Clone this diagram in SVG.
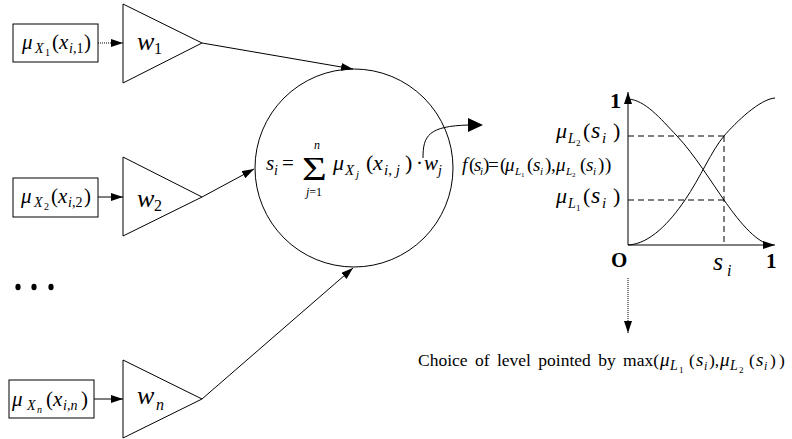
<svg xmlns="http://www.w3.org/2000/svg" width="792" height="439" viewBox="0 0 792 439">
<defs>
<marker id="ah" viewBox="0 0 12 8" refX="12" refY="4" markerWidth="12" markerHeight="8" markerUnits="userSpaceOnUse" orient="auto"><path d="M0,0 L12,4 L0,8 z" fill="#000"/></marker>
</defs>
<style>
.s{fill:none;stroke:#000;stroke-width:1}
.d{fill:none;stroke:#000;stroke-width:1;stroke-dasharray:1 1}
.dash{fill:none;stroke:#000;stroke-width:1;stroke-dasharray:6 4}
.t{font-family:"Liberation Serif","Times New Roman",serif;fill:#000}
.i{font-style:italic}
.u{font-style:normal}
.b{font-weight:bold}
</style>
<rect width="792" height="439" fill="#fff"/>

<g id="in1">
<rect x="13" y="24" width="85" height="38" class="s"/>
<text class="t i" font-size="21"><tspan x="22" y="49">μ</tspan><tspan x="35" y="53" font-size="14">X</tspan><tspan x="45" y="56" font-size="10" class="u">1</tspan><tspan x="52" y="49" class="u">(</tspan><tspan x="59" y="49">x</tspan><tspan x="69" y="53" font-size="14">i<tspan class="u">,1</tspan></tspan><tspan x="84" y="49" class="u">)</tspan></text>
</g>
<g id="in2">
<rect x="13" y="178" width="85" height="39" class="s"/>
<text class="t i" font-size="21"><tspan x="21" y="203">μ</tspan><tspan x="34" y="207" font-size="14">X</tspan><tspan x="44" y="210" font-size="10" class="u">2</tspan><tspan x="51" y="203" class="u">(</tspan><tspan x="58" y="203">x</tspan><tspan x="68" y="207" font-size="14">i<tspan class="u">,2</tspan></tspan><tspan x="84" y="203" class="u">)</tspan></text>
</g>
<g id="inn">
<rect x="9" y="380" width="85" height="38" class="s"/>
<text class="t i" font-size="21"><tspan x="12" y="406">μ</tspan><tspan x="27" y="410" font-size="14">X</tspan><tspan x="37" y="413" font-size="10">n</tspan><tspan x="46" y="406" class="u">(</tspan><tspan x="53" y="406">x</tspan><tspan x="63" y="410" font-size="14">i<tspan class="u">,</tspan>n</tspan><tspan x="81" y="406" class="u">)</tspan></text>
</g>

<g id="dots">
<ellipse cx="18" cy="287" rx="2.6" ry="3.2"/>
<ellipse cx="34" cy="287" rx="2.6" ry="3.2"/>
<ellipse cx="51" cy="287" rx="2.6" ry="3.2"/>
</g>

<g id="w1">
<polygon points="123,4 123,83 202,43" class="s"/>
<text class="t i" font-size="26" x="137" y="50">w</text>
<text class="t" font-size="16" x="154" y="54">1</text>
</g>
<g id="w2">
<polygon points="123,157 123,236 202,197" class="s"/>
<text class="t i" font-size="26" x="137" y="207">w</text>
<text class="t" font-size="16" x="154" y="211">2</text>
</g>
<g id="wn">
<polygon points="123,360 123,438 202,399" class="s"/>
<text class="t i" font-size="26" x="137" y="404">w</text>
<text class="t i" font-size="16" x="156" y="410">n</text>
</g>

<g id="sum">
<circle cx="354" cy="168" r="99" class="s"/>
<text class="t u" font-size="34" transform="translate(302,180) scale(1.25,1)">Σ</text>
<text class="t i" font-size="21">
<tspan x="266" y="170">s</tspan><tspan x="274" y="175" font-size="14">i</tspan>
<tspan x="282" y="170" class="u">=</tspan>
<tspan x="314" y="149" font-size="12">n</tspan>
<tspan x="306" y="196" font-size="12">j<tspan class="u">=1</tspan></tspan>
<tspan x="333" y="170" font-size="22">μ</tspan><tspan x="345" y="175" font-size="15">X</tspan><tspan x="356" y="178" font-size="11">j</tspan>
<tspan x="366" y="170" class="u" font-size="22">(</tspan><tspan x="373" y="170" font-size="22">x</tspan><tspan x="384" y="175" font-size="15">i<tspan class="u">, </tspan>j</tspan><tspan x="405" y="170" class="u" font-size="22">)</tspan>
<tspan x="416" y="170" class="u">·</tspan>
<tspan x="424" y="170">w</tspan><tspan x="438" y="175" font-size="14">j</tspan>
</text>
</g>

<g id="fexpr">
<text class="t i" font-size="19">
<tspan x="462" y="171">f</tspan><tspan x="469" y="171" class="u">(</tspan><tspan x="474" y="171">s</tspan><tspan x="480" y="175" font-size="11">i</tspan><tspan x="483" y="171" class="u">)</tspan>
<tspan x="488" y="171" class="u">=</tspan>
<tspan x="500" y="171" class="u">(</tspan><tspan x="505" y="171">μ</tspan><tspan x="515" y="175" font-size="11">L</tspan><tspan x="521" y="177" font-size="7" class="u">1</tspan>
<tspan x="527" y="171" class="u">(</tspan><tspan x="533" y="171">s</tspan><tspan x="540" y="175" font-size="11">i</tspan><tspan x="545" y="171" class="u">)</tspan><tspan x="551" y="171" class="u">,</tspan>
<tspan x="556" y="171">μ</tspan><tspan x="566" y="175" font-size="11">L</tspan><tspan x="572" y="177" font-size="7" class="u">2</tspan>
<tspan x="580" y="171" class="u">(</tspan><tspan x="586" y="171">s</tspan><tspan x="593" y="175" font-size="11">i</tspan><tspan x="598" y="171" class="u">)</tspan><tspan x="605" y="171" class="u">)</tspan>
</text>
</g>

<g id="chart">
<line x1="628" y1="245" x2="628" y2="92" class="s" marker-end="url(#ah)"/>
<line x1="628" y1="245" x2="775" y2="245" class="s" marker-end="url(#ah)"/>
<path d="M628,99 C645,100 660,118 677,136 S712,183 724,200 S755,243 772,245" class="s"/>
<path d="M628,245 C650,244 670,222 685,200 S712,150 724,136 S760,99 775,98" class="s"/>
<path d="M628,136 H724 M628,200 H724 M724,136 V245" class="dash"/>
<text class="t b" font-size="22" x="610" y="108">1</text>
<text class="t b" font-size="21" x="611" y="267">O</text>
<text class="t b" font-size="21" x="766" y="268">1</text>
<text class="t i" font-size="26" x="713" y="270">s</text>
<text class="t i" font-size="16" x="727" y="276">i</text>
<text class="t i" font-size="22"><tspan x="556" y="138">μ</tspan><tspan x="568" y="143" font-size="14">L</tspan><tspan x="576" y="146" font-size="9" class="u">2</tspan><tspan x="583" y="138" class="u">(</tspan><tspan x="591" y="138" font-size="24">s</tspan><tspan x="602" y="143" font-size="15">i</tspan><tspan x="613" y="138" class="u">)</tspan></text>
<text class="t i" font-size="22"><tspan x="556" y="203">μ</tspan><tspan x="568" y="208" font-size="14">L</tspan><tspan x="576" y="211" font-size="9" class="u">1</tspan><tspan x="583" y="203" class="u">(</tspan><tspan x="591" y="203" font-size="24">s</tspan><tspan x="602" y="208" font-size="15">i</tspan><tspan x="613" y="203" class="u">)</tspan></text>
</g>

<g id="result">
<text class="t" font-size="17.5" word-spacing="3"><tspan x="418" y="366">Choice of level pointed by max(</tspan><tspan x="660" y="366" class="i" font-size="19">μ</tspan><tspan x="670" y="370" font-size="14" class="i">L</tspan><tspan x="679" y="373" font-size="9">1</tspan><tspan x="689" y="366">(</tspan><tspan x="696" y="366" class="i" font-size="19">s</tspan><tspan x="704" y="370" font-size="12" class="i">i</tspan><tspan x="709" y="366">),</tspan><tspan x="720" y="366" class="i" font-size="19">μ</tspan><tspan x="730" y="370" font-size="14" class="i">L</tspan><tspan x="739" y="373" font-size="9">2</tspan><tspan x="749" y="366">(</tspan><tspan x="756" y="366" class="i" font-size="19">s</tspan><tspan x="764" y="370" font-size="12" class="i">i</tspan><tspan x="770" y="366">)</tspan><tspan x="779" y="366">)</tspan></text>
</g>

<g id="connectors">
<line x1="98" y1="43" x2="123" y2="43" class="d" marker-end="url(#ah)"/>
<line x1="98" y1="197" x2="123" y2="197" class="s" marker-end="url(#ah)"/>
<line x1="94" y1="399" x2="123" y2="399" class="s" marker-end="url(#ah)"/>
<line x1="202" y1="43" x2="353" y2="69" class="s" marker-end="url(#ah)"/>
<line x1="202" y1="197" x2="254" y2="169" class="s" marker-end="url(#ah)"/>
<line x1="202" y1="399" x2="353" y2="268" class="s" marker-end="url(#ah)"/>
<path d="M423,158 C423,136 428,126 469,125" class="s"/>
<polygon points="468,118 483,125 468,132"/>
<line x1="628" y1="278" x2="628" y2="333" class="d" marker-end="url(#ah)"/>
</g>
</svg>
